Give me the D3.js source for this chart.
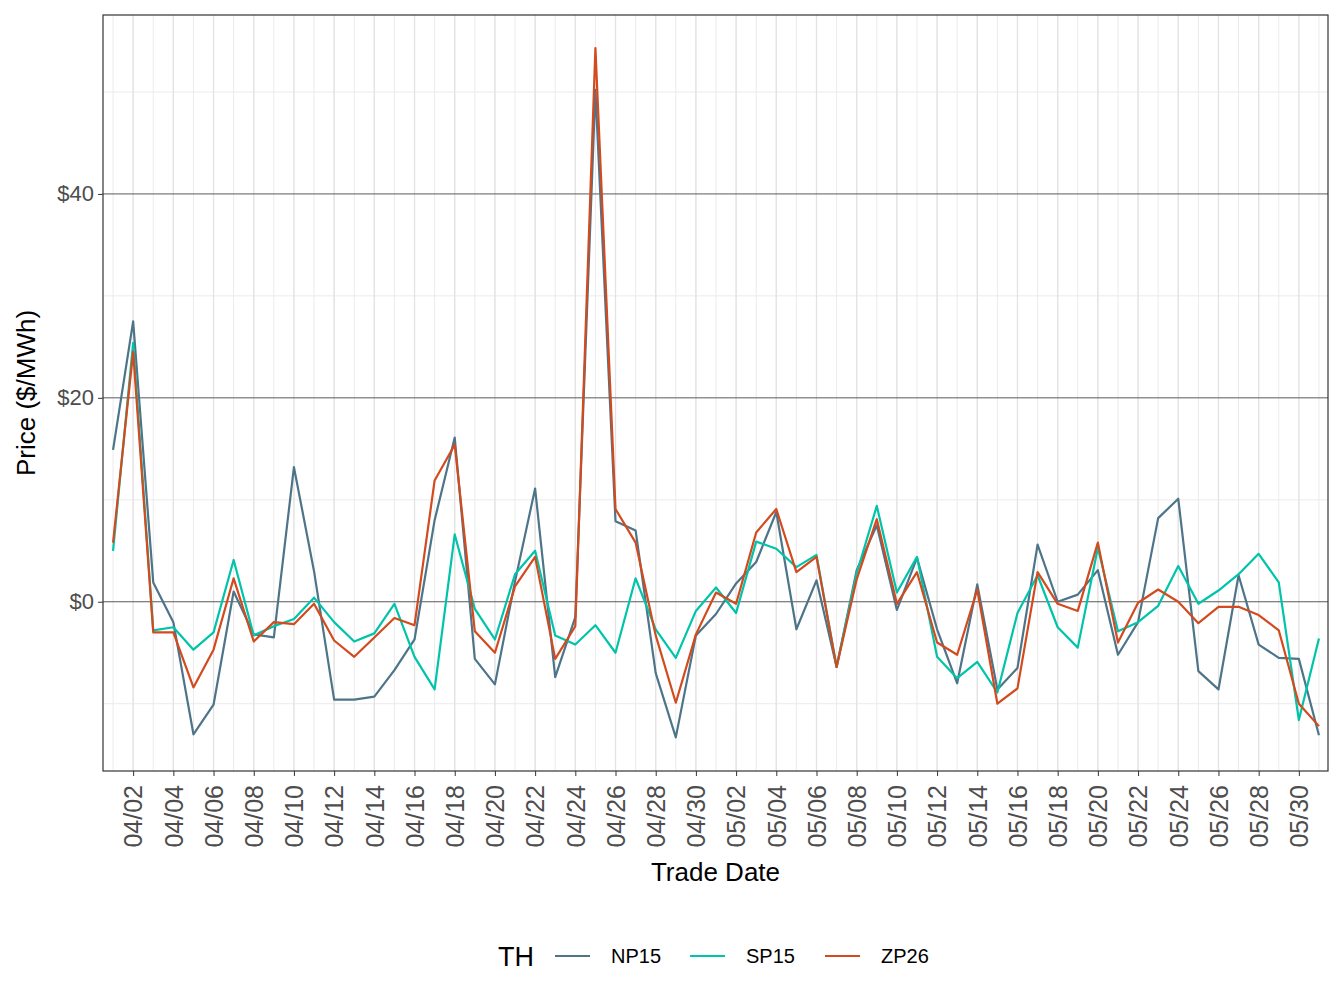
<!DOCTYPE html>
<html><head><meta charset="utf-8">
<script src="https://cdn.jsdelivr.net/npm/d3@7"></script>
<style>body{margin:0;background:#fff}text{font-family:"Liberation Sans",Arial,sans-serif}</style>
</head><body><svg id="c" width="1344" height="1008"></svg>
<script>
const startDate = "2025-04-01";
const seriesNames = ["NP15","SP15","ZP26"];
const seriesColors = ["#4E7489","#00C4AA","#D24A1E"];
const np15 = [14.9,27.5,1.9,-2.0,-13.0,-10.1,1.0,-3.2,-3.5,13.2,3.0,-9.6,-9.6,-9.3,-6.7,-3.7,8.0,16.1,-5.6,-8.1,2.0,11.1,-7.4,-1.5,50.2,7.9,7.0,-7.0,-13.3,-3.3,-1.2,1.8,3.9,8.8,-2.7,2.1,-6.4,3.1,7.5,-0.8,4.3,-2.7,-8.0,1.7,-8.6,-6.5,5.6,0.0,0.7,3.1,-5.2,-2.0,8.2,10.1,-6.8,-8.6,2.6,-4.2,-5.5,-5.6,-13.1];
const sp15 = [5.0,25.4,-2.8,-2.5,-4.7,-3.0,4.1,-3.3,-2.4,-1.7,0.4,-2.0,-3.9,-3.1,-0.2,-5.4,-8.6,6.6,-0.7,-3.7,2.7,5.0,-3.3,-4.2,-2.3,-5.0,2.3,-2.7,-5.5,-0.9,1.4,-1.1,5.9,5.2,3.4,4.6,-6.4,2.8,9.4,0.9,4.4,-5.4,-7.5,-5.9,-8.9,-1.1,2.6,-2.5,-4.5,5.3,-2.9,-2.0,-0.4,3.5,-0.2,1.1,2.7,4.7,1.9,-11.6,-3.6];
const zp26 = [5.8,24.5,-3.0,-3.0,-8.4,-4.7,2.3,-3.9,-2.0,-2.2,-0.2,-3.8,-5.4,-3.5,-1.6,-2.3,11.9,15.4,-2.9,-5.0,1.5,4.4,-5.6,-2.4,54.3,9.1,5.8,-3.3,-9.9,-3.2,0.9,-0.2,6.8,9.1,2.9,4.4,-6.4,2.2,8.1,-0.2,2.9,-4.0,-5.2,1.2,-10.0,-8.5,2.9,-0.2,-0.9,5.8,-4.0,-0.1,1.2,0.0,-2.1,-0.5,-0.5,-1.3,-2.8,-10.0,-12.2];
const yTicks = [0,20,40];
const yMinor = [-10,10,30,50];

const svg = d3.select("#c");
const L=103,R=1328,T=15,B=771;
const parse = d3.utcParse("%Y-%m-%d");
const d0 = parse(startDate);
const dates = np15.map((_,i)=>d3.utcDay.offset(d0,i));
const day = 864e5;
const x = d3.scaleUtc().domain([new Date(+d0-0.5*day), new Date(+dates[60]+0.45*day)]).range([L,R]);
const y = d3.scaleLinear().domain([-16.6,57.55]).range([B,T]);
const g = svg.append("g");
g.selectAll(".vm").data(dates).join("line").attr("x1",d=>x(d)).attr("x2",d=>x(d)).attr("y1",T).attr("y2",B).attr("stroke","#ebebeb").attr("stroke-width",1);
g.selectAll(".hm").data(yMinor).join("line").attr("x1",L).attr("x2",R).attr("y1",d=>y(d)).attr("y2",d=>y(d)).attr("stroke","#ebebeb").attr("stroke-width",1);
const majorDates = dates.filter((d,i)=>i%2===1);
g.selectAll(".vM").data(majorDates).join("line").attr("x1",d=>x(d)).attr("x2",d=>x(d)).attr("y1",T).attr("y2",B).attr("stroke","#e3e3e3").attr("stroke-width",1.3);
g.selectAll(".hM").data(yTicks).join("line").attr("x1",L).attr("x2",R).attr("y1",d=>y(d)).attr("y2",d=>y(d)).attr("stroke","#5a5a5a").attr("stroke-width",1);
const series=[np15,sp15,zp26];
const line = d3.line().x((d,i)=>x(dates[i])).y(d=>y(d));
series.forEach((s,k)=>svg.append("path").attr("d",line(s)).attr("fill","none").attr("stroke",seriesColors[k]).attr("stroke-width",2.2).attr("stroke-linejoin","round"));
svg.append("rect").attr("x",L).attr("y",T).attr("width",R-L).attr("height",B-T).attr("fill","none").attr("stroke","#333").attr("stroke-width",1.2);
const fmt = d3.utcFormat("%m/%d");
const xa = svg.append("g").attr("transform",`translate(0,${B})`).call(d3.axisBottom(x).tickValues(majorDates).tickFormat(fmt).tickSize(5));
xa.select(".domain").remove();
xa.selectAll("line").attr("stroke","#333");
xa.selectAll("text").attr("transform","rotate(-90)").attr("text-anchor","end").attr("x",-14).attr("y",0).attr("dy","0.35em").attr("font-size",25).attr("fill","#4d4d4d");
const ya = svg.append("g").attr("transform",`translate(${L},0)`).call(d3.axisLeft(y).tickValues(yTicks).tickFormat(d=>"$"+d).tickSize(5));
ya.select(".domain").remove();
ya.selectAll("line").attr("stroke","#333");
ya.selectAll("text").attr("font-size",22).attr("fill","#4d4d4d").attr("x",-9);
svg.append("text").attr("x",(L+R)/2).attr("y",881).attr("text-anchor","middle").attr("font-size",26).text("Trade Date");
svg.append("text").attr("transform",`translate(35,${(T+B)/2}) rotate(-90)`).attr("text-anchor","middle").attr("font-size",26).text("Price ($/MWh)");
svg.append("text").attr("x",498).attr("y",966).attr("font-size",27).text("TH");
const lx=[555,690,825];
seriesNames.forEach((n,k)=>{
  svg.append("line").attr("x1",lx[k]).attr("x2",lx[k]+35).attr("y1",956).attr("y2",956).attr("stroke",seriesColors[k]).attr("stroke-width",2.2);
  svg.append("text").attr("x",lx[k]+56).attr("y",963).attr("font-size",20).text(n);
});
</script></body></html>
